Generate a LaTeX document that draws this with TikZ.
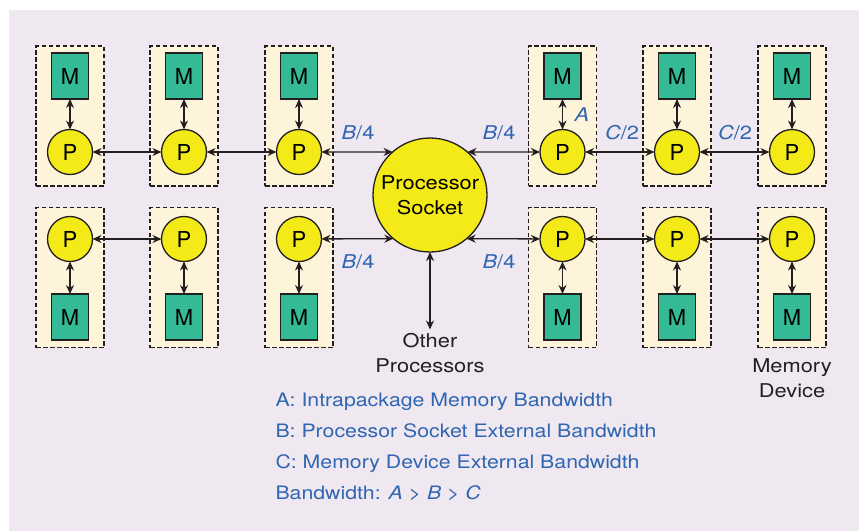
\documentclass[tikz,border=0pt]{standalone}
\usepackage{fontspec}
\setmainfont{TeX Gyre Heros}[FakeStretch=1.15]
\newfontfamily\chipfont{TeX Gyre Heros}
\usepackage{xcolor}
\usepackage{tikz}
\usetikzlibrary{arrows.meta}
\definecolor{bgcol}{RGB}{239,232,241}
\definecolor{pkgcol}{RGB}{253,244,218}
\definecolor{memcol}{RGB}{52,186,148}
\definecolor{proccol}{RGB}{243,234,24}
\definecolor{bwcol}{RGB}{47,101,177}
\definecolor{inkcol}{RGB}{35,31,32}
\tikzset{pkg/.style={draw=inkcol,dash pattern=on 4.5pt off 2.5pt,line width=1.2pt,fill=pkgcol,
                     minimum width=68pt,minimum height=140pt,inner sep=0pt,outer sep=0pt},
         mem/.style={draw=inkcol,line width=1.3pt,fill=memcol,minimum width=37pt,minimum height=46pt,
                     inner sep=0pt,outer sep=0pt,font=\chipfont\fontsize{22}{22}\selectfont},
         proc/.style={circle,draw=inkcol,line width=1.3pt,fill=proccol,minimum size=45pt,
                      inner sep=0pt,outer sep=0pt,font=\chipfont\fontsize{22}{22}\selectfont},
         socket/.style={circle,draw=inkcol,line width=1.3pt,fill=proccol,minimum size=114pt,
                        inner sep=0pt,outer sep=0pt,align=center,font=\fontsize{19}{25}\selectfont},
         link/.style={{Stealth[length=9pt,width=8pt]}-{Stealth[length=9pt,width=8pt]},line width=1.3pt,draw=inkcol},
         bw/.style={text=bwcol,font=\fontsize{19}{19}\selectfont},
         note/.style={text=inkcol,align=center,font=\fontsize{19}{25.5}\selectfont}}

\begin{document}
\begin{tikzpicture}[x=1pt,y=-1pt]
\useasboundingbox (0,0) rectangle (859,531);
\fill[bgcol] (9,10) rectangle (859,531);
\foreach \cx/\n in {70/1,184/2,299/3,562.5/4,677/5,792/6} {
  \node[pkg] (tb\n) at (\cx,116) {};
  \node[mem] (tm\n) at (\cx,76) {M};
  \node[proc] (tp\n) at (\cx,152) {P};
  \draw[link] (tm\n) -- (tp\n);
  \node[pkg] (bb\n) at (\cx,277.5) {};
  \node[proc] (bp\n) at (\cx,239) {P};
  \node[mem] (bm\n) at (\cx,317) {M};
  \draw[link] (bp\n) -- (bm\n);
}
\node[socket] (sock) at (430,195) {Processor\\Socket};
\node[note] (other) at (430,353) {Other\\Processors};
\node[note] (memdev) at (792,378) {Memory\\Device};
\draw[link] (tp1) -- (tp2);
\draw[link] (tp2) -- (tp3);
\draw[link] (tp3) -- (sock.131);
\draw[link] (sock.49) -- (tp4);
\draw[link] (tp4) -- (tp5);
\draw[link] (tp5) -- (tp6);
\draw[link] (bp1) -- (bp2);
\draw[link] (bp3) -- (sock.-130);
\draw[link] (sock.-50) -- (bp4);
\draw[link] (bp4) -- (bp5);
\draw[link] (bp5) -- (bp6);
\draw[link] (sock) -- (other);
\node[bw] (bwtl) at (358,133) {\textit{B}/4};
\node[bw] (bwtr) at (499,133) {\textit{B}/4};
\node[bw] (bwbl) at (358,262) {\textit{B}/4};
\node[bw] (bwbr) at (499,262) {\textit{B}/4};
\node[bw] (bwa) at (582,115) {\textit{A}};
\node[bw] (bwc1) at (622,133) {\textit{C}/2};
\node[bw] (bwc2) at (735,133) {\textit{C}/2};
\node[bw,anchor=west,align=left,font=\fontsize{18.5}{31}\selectfont] (key) at (272,447)
  {A: Intrapackage Memory Bandwidth\\B: Processor Socket External Bandwidth\\C: Memory Device External Bandwidth\\Bandwidth: \textit{A} > \textit{B} > \textit{C}};
\end{tikzpicture}
\end{document}
